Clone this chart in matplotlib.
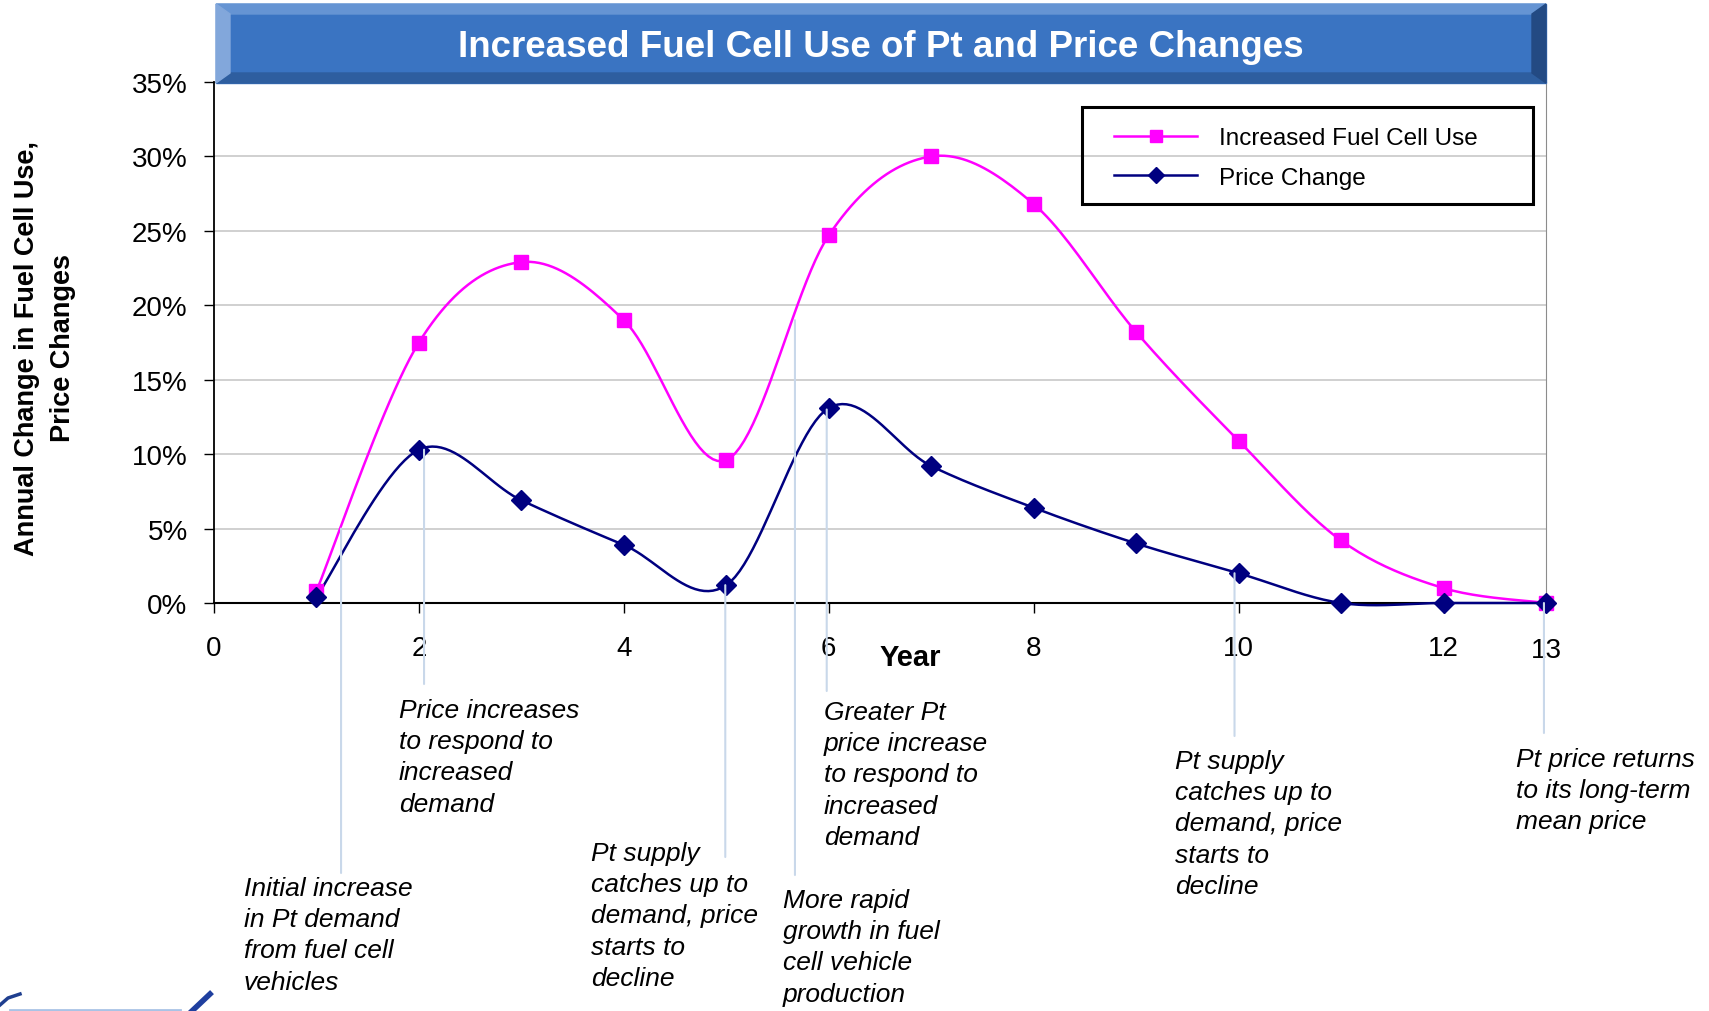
import numpy as np
import matplotlib
matplotlib.use("Agg")
import matplotlib.pyplot as plt
import matplotlib.transforms as mtransforms
from matplotlib.patches import Polygon, Rectangle, ConnectionPatch
from matplotlib.lines import Line2D

plt.rcParams['font.family'] = ['Liberation Sans', 'DejaVu Sans']

# data (percent)
years = [1, 2, 3, 4, 5, 6, 7, 8, 9, 10, 11, 12, 13]
fuel_cell_use = [0.8, 17.5, 22.9, 19.0, 9.6, 24.7, 30.0, 26.8, 18.2, 10.9, 4.2, 1.0, 0.0]
price_change = [0.4, 10.3, 6.9, 3.9, 1.2, 13.1, 9.2, 6.4, 4.0, 2.0, 0.0, 0.0, 0.0]
y_ticks = [0, 5, 10, 15, 20, 25, 30, 35]
x_ticks = [0, 2, 4, 6, 8, 10, 12]

# notes: (x of leader line, start value, end px, text left px, text top px, text)
notes = [
    (1.24, 5.0, 874, 244, 881, "Initial increase\nin Pt demand\nfrom fuel cell\nvehicles"),
    (2.05, 10.3, 685, 399, 703, "Price increases\nto respond to\nincreased\ndemand"),
    (4.99, 1.2, 858, 591, 846, "Pt supply\ncatches up to\ndemand, price\nstarts to\ndecline"),
    (5.67, 19.0, 876, 783, 893, "More rapid\ngrowth in fuel\ncell vehicle\nproduction"),
    (5.98, 13.0, 692, 824, 705, "Greater Pt\nprice increase\nto respond to\nincreased\ndemand"),
    (9.96, 2.0, 737, 1175, 754, "Pt supply\ncatches up to\ndemand, price\nstarts to\ndecline"),
    (12.98, 0.0, 734, 1516, 752, "Pt price returns\nto its long-term\nmean price"),
]

W, H = 1709, 1012


def fx(px):
    return px / W


def fy(py):
    return 1 - py / H


def smooth(xs, ys, n=24):
    # excel-like smoothed line (catmull-rom bezier)
    p = np.column_stack([xs, ys]).astype(float)
    out = []
    for i in range(len(p) - 1):
        p0 = p[i - 1] if i > 0 else p[i]
        p1, p2 = p[i], p[i + 1]
        p3 = p[i + 2] if i + 2 < len(p) else p[i + 1]
        c1 = p1 + (p2 - p0) / 6
        c2 = p2 - (p3 - p1) / 6
        t = np.linspace(0, 1, n)[:, None]
        seg = (1 - t) ** 3 * p1 + 3 * (1 - t) ** 2 * t * c1 + 3 * (1 - t) * t ** 2 * c2 + t ** 3 * p2
        out.append(seg if i == 0 else seg[1:])
    out = np.vstack(out)
    return out[:, 0], out[:, 1]


fig = plt.figure(figsize=(W / 100, H / 100), dpi=100)
ax = fig.add_axes([fx(214), fy(604), fx(1546) - fx(214), fy(83) - fy(604)])

ax.set_xlim(0, 13)
ax.set_ylim(0, 35)
ax.set_yticks(y_ticks)
ax.set_yticklabels([f"{v}%" for v in y_ticks])
ax.set_xticks(x_ticks)
ax.set_xticklabels([str(v) for v in x_ticks])
ax.tick_params(axis='both', labelsize=20, length=7, width=1, direction='out', colors='black')
ax.tick_params(axis='y', pad=12)
ax.tick_params(axis='x', pad=16)
ax.grid(axis='y', color='#C8C8C8', lw=1.2)
ax.set_axisbelow(True)
ax.spines['top'].set_visible(False)
ax.spines['right'].set_color('#8C8C8C')
ax.spines['left'].set_linewidth(1.3)
ax.spines['bottom'].set_linewidth(1.5)
ax.spines['bottom'].set_zorder(2)

ax.text(13, -0.09, "13", transform=mtransforms.blended_transform_factory(ax.transData, ax.transAxes),
        ha='center', va='center', fontsize=20)

sx, sy = smooth(years, fuel_cell_use)
ax.plot(sx, sy, color='#FF00FF', lw=1.8, clip_on=False, zorder=4)
ax.plot(years, fuel_cell_use, ls='none', marker='s', ms=10, color='#FF00FF', clip_on=False, zorder=5)
sx, sy = smooth(years, price_change)
ax.plot(sx, sy, color='#000080', lw=1.8, clip_on=False, zorder=4)
ax.plot(years, price_change, ls='none', marker='D', ms=10, color='#000080', clip_on=False, zorder=5)

# leader lines and notes
blend = mtransforms.blended_transform_factory(ax.transData, fig.transFigure)
for x, y0, py_end, tx, ty, txt in notes:
    con = ConnectionPatch(xyA=(x, y0), coordsA=ax.transData, xyB=(x, fy(py_end)), coordsB=blend,
                          color='#C9D8EA', lw=1.5, zorder=3)
    fig.add_artist(con)
    fig.text(fx(tx), fy(ty - 4), txt, ha='left', va='top', fontsize=19, style='italic',
             linespacing=1.38)

# axis titles
fig.text(fx(910), fy(658), "Year", ha='center', va='center', fontsize=21, fontweight='bold')
fig.text(fx(45), fy(348), "Annual Change in Fuel Cell Use,\nPrice Changes", ha='center', va='center',
         rotation=90, fontsize=19.5, fontweight='bold', linespacing=1.45)

# title banner with bevels
x0, x1, y0, y1 = fx(216), fx(1546), fy(5), fy(84)
bx, by = fx(14), 10 / H
fig.add_artist(Rectangle((x0, y1), x1 - x0, y0 - y1, transform=fig.transFigure, color='#3A74C2', zorder=1))
fig.add_artist(Polygon([(x0, y0), (x1, y0), (x1 - bx, y0 - by), (x0 + bx, y0 - by)], closed=True,
                       transform=fig.transFigure, color='#6594D3', zorder=2))
fig.add_artist(Polygon([(x0, y1), (x1, y1), (x1 - bx, y1 + by), (x0 + bx, y1 + by)], closed=True,
                       transform=fig.transFigure, color='#2E5E9F', zorder=2))
fig.add_artist(Polygon([(x0, y0), (x0 + bx, y0 - by), (x0 + bx, y1 + by), (x0, y1)], closed=True,
                       transform=fig.transFigure, color='#82A7DB', zorder=2))
fig.add_artist(Polygon([(x1, y0), (x1 - bx, y0 - by), (x1 - bx, y1 + by), (x1, y1)], closed=True,
                       transform=fig.transFigure, color='#234A83', zorder=2))
fig.text(fx(881), fy(48), "Increased Fuel Cell Use of Pt and Price Changes", ha='center', va='center',
         fontsize=26.5, fontweight='bold', color='white', zorder=3)

# legend
fig.add_artist(Rectangle((fx(1082), fy(205)), fx(1533) - fx(1082), fy(108) - fy(205),
                         transform=fig.transFigure, fill=False, ec='black', lw=2.2, zorder=6))
handles = [Line2D([], [], color='#FF00FF', lw=1.8, marker='s', ms=9),
           Line2D([], [], color='#000080', lw=1.8, marker='D', ms=8)]
fig.legend(handles, ["Increased Fuel Cell Use", "Price Change"], loc='upper left',
           bbox_to_anchor=(fx(1095), fy(109)), frameon=False, fontsize=17.5, handlelength=3.4,
           handletextpad=0.9, labelspacing=0.72, borderpad=0.3)

# cropped logo fragment at bottom left
fig.add_artist(Line2D([fx(0), fx(8), fx(20)], [fy(1006), fy(999), fy(995)], transform=fig.transFigure,
                      color='#1F3F8F', lw=2.5))
fig.add_artist(Line2D([fx(10), fx(180)], [fy(1011), fy(1011)], transform=fig.transFigure,
                      color='#A9C3E6', lw=2))
fig.add_artist(Line2D([fx(192), fx(210)], [fy(1012), fy(995)], transform=fig.transFigure,
                      color='#1F3F9F', lw=4))

fig.savefig("out.png", dpi=100)
